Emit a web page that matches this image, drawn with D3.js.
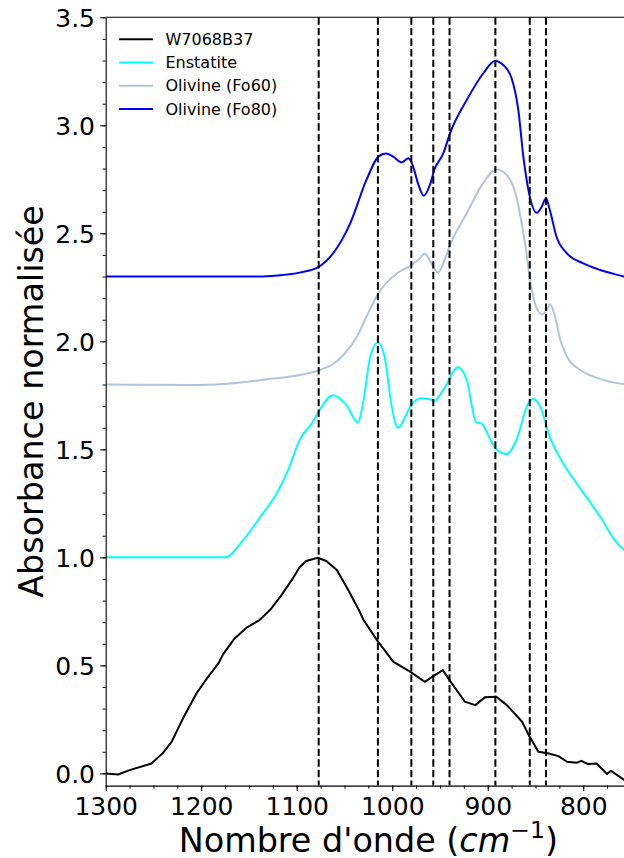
<!DOCTYPE html>
<html>
<head>
<meta charset="utf-8">
<script src="https://cdn.jsdelivr.net/npm/d3@7"></script>
<style>
  html, body { margin: 0; padding: 0; background: #fff; }
  svg { display: block; font-family: "DejaVu Sans", sans-serif; }
</style>
</head>
<body>
<svg id="chart" width="624" height="858"></svg>
<script>
// ---------- DATA ----------
const seriesNames = ["W7068B37", "Enstatite", "Olivine (Fo60)", "Olivine (Fo80)"];
const seriesColors = ["#000000", "#00ffff", "#b0c4de", "#0000ff"];

const wnSample = [1300, 1287, 1275, 1252, 1240, 1231, 1219, 1205, 1194, 1182, 1177, 1165, 1152, 1139, 1128, 1116, 1104, 1097, 1090, 1078, 1069, 1058, 1046, 1034, 1030, 1016, 999, 981, 966, 957, 947, 940, 924, 913, 903, 891, 880, 864, 858, 847, 837, 826, 817, 807, 802, 795, 786, 775, 771, 758, 750];
const absSample = [0.0, -0.005, 0.015, 0.046, 0.095, 0.146, 0.255, 0.370, 0.440, 0.509, 0.552, 0.625, 0.676, 0.710, 0.756, 0.825, 0.903, 0.954, 0.983, 0.998, 0.983, 0.941, 0.849, 0.748, 0.710, 0.617, 0.517, 0.470, 0.424, 0.450, 0.478, 0.432, 0.332, 0.316, 0.352, 0.355, 0.316, 0.239, 0.185, 0.100, 0.093, 0.080, 0.054, 0.049, 0.058, 0.043, 0.046, -0.003, 0.012, -0.028, -0.04];

const wnEnstatite = [1300, 1175, 1156, 1138, 1121, 1109, 1097, 1083, 1076, 1062, 1048, 1036, 1030, 1023, 1015, 1008, 1000.5, 994, 980, 971, 960, 956, 946.5, 931, 922, 912, 906, 900, 892, 880, 870, 857.5, 852, 845, 835, 824, 807, 793, 780, 768.5, 757, 750];
const absEnstatite = [1.0, 1.0, 1.08, 1.188, 1.296, 1.404, 1.543, 1.628, 1.682, 1.751, 1.705, 1.625, 1.728, 1.929, 1.995, 1.929, 1.697, 1.600, 1.705, 1.736, 1.731, 1.725, 1.775, 1.880, 1.821, 1.625, 1.618, 1.57, 1.505, 1.478, 1.543, 1.713, 1.733, 1.697, 1.558, 1.458, 1.343, 1.257, 1.173, 1.088, 1.034, 1.01];

const wnFo60 = [1300, 1200, 1166, 1131, 1097, 1076, 1062, 1051, 1037, 1027, 1014.5, 995, 980, 971, 966, 959, 952, 946.5, 939.5, 922, 905, 891, 880, 870, 861, 854, 850.5, 843.5, 838, 835, 829.5, 824, 817, 803, 786, 757, 750];
const absFo60 = [1.8, 1.798, 1.806, 1.824, 1.844, 1.867, 1.895, 1.937, 2.021, 2.114, 2.222, 2.315, 2.353, 2.384, 2.407, 2.361, 2.318, 2.361, 2.446, 2.593, 2.731, 2.796, 2.770, 2.669, 2.454, 2.238, 2.176, 2.125, 2.145, 2.173, 2.114, 2.006, 1.929, 1.867, 1.832, 1.802, 1.80];

const wnFo80 = [1300, 1140, 1120, 1097, 1077, 1062, 1044, 1027, 1014.5, 1006.5, 999, 990, 983, 978, 973, 967, 960, 956, 946.5, 939.5, 922, 904.6, 892.4, 883.7, 875, 868, 862.7, 856.7, 848.7, 843.5, 839, 835, 828, 817, 800, 782, 757, 750];
const absFo80 = [2.3, 2.3, 2.305, 2.318, 2.345, 2.407, 2.546, 2.747, 2.855, 2.870, 2.855, 2.829, 2.847, 2.808, 2.731, 2.674, 2.731, 2.793, 2.870, 2.963, 3.117, 3.241, 3.298, 3.279, 3.218, 3.071, 2.855, 2.685, 2.595, 2.623, 2.662, 2.608, 2.484, 2.407, 2.361, 2.330, 2.299, 2.29];

const bandPositions = [1077, 1015, 980, 957, 940, 892, 856, 839];

const xTickValues = [1300, 1200, 1100, 1000, 900, 800];
const yTickValues = [0.0, 0.5, 1.0, 1.5, 2.0, 2.5, 3.0, 3.5];

(function () {
// ---------- LAYOUT ----------
const svg = d3.select("#chart");
const pL = 105.7, pR = 631, pT = 17.3, pB = 785.6;

const x = d3.scaleLinear().domain([1300, 750]).range([pL, pR]);
const y = d3.scaleLinear().domain([-0.0565, 3.5]).range([pB, pT]);

const series = [
  { name: seriesNames[0], color: seriesColors[0], wn: wnSample, v: absSample, curve: d3.curveLinear },
  { name: seriesNames[1], color: seriesColors[1], wn: wnEnstatite, v: absEnstatite, curve: d3.curveMonotoneX },
  { name: seriesNames[2], color: seriesColors[2], wn: wnFo60, v: absFo60, curve: d3.curveMonotoneX },
  { name: seriesNames[3], color: seriesColors[3], wn: wnFo80, v: absFo80, curve: d3.curveMonotoneX }
];

// curves
series.forEach(s => {
  const pts = s.wn.map((w, i) => [w, s.v[i]]);
  const line = d3.line().x(d => x(d[0])).y(d => y(d[1])).curve(s.curve);
  svg.append("path")
    .attr("d", line(pts))
    .attr("fill", "none")
    .attr("stroke", s.color)
    .attr("stroke-width", 2)
    .attr("stroke-linejoin", "round")
    .attr("stroke-linecap", "butt");
});

// dashed band lines
svg.append("g").selectAll("line").data(bandPositions).join("line")
  .attr("x1", d => x(d)).attr("x2", d => x(d))
  .attr("y1", pT).attr("y2", pB)
  .attr("stroke", "#000").attr("stroke-width", 2)
  .attr("stroke-dasharray", "7.4,3.2");

// axes
const xMinor = d3.range(1300, 749, -25);
const yMinor = d3.range(0, 36).map(i => +(i * 0.1).toFixed(1));

svg.append("g").attr("transform", `translate(0,${pB})`)
  .call(d3.axisBottom(x).tickValues(xMinor).tickSize(3).tickFormat(""))
  .call(g => g.select(".domain").remove());
svg.append("g").attr("transform", `translate(${pL},0)`)
  .call(d3.axisLeft(y).tickValues(yMinor).tickSize(3).tickFormat(""))
  .call(g => g.select(".domain").remove());

const xAxis = svg.append("g").attr("transform", `translate(0,${pB})`)
  .call(d3.axisBottom(x).tickValues(xTickValues).tickSizeInner(5.5).tickSizeOuter(0).tickPadding(6.3).tickFormat(d3.format("d")));
xAxis.selectAll("text").attr("font-size", 25).attr("font-family", "DejaVu Sans").attr("fill", "#000");
xAxis.select(".domain").attr("stroke-width", 1.1);

const yAxis = svg.append("g").attr("transform", `translate(${pL},0)`)
  .call(d3.axisLeft(y).tickValues(yTickValues).tickSizeInner(5.5).tickSizeOuter(0).tickPadding(5.2).tickFormat(d3.format(".1f")));
yAxis.selectAll("text").attr("font-size", 25).attr("font-family", "DejaVu Sans").attr("fill", "#000").attr("dy", "0.36em");
yAxis.select(".domain").attr("stroke-width", 1.1);

// top / right spines
svg.append("line").attr("x1", pL).attr("x2", pR).attr("y1", pT).attr("y2", pT)
  .attr("stroke", "#000").attr("stroke-width", 1.1);
svg.append("line").attr("x1", pR).attr("x2", pR).attr("y1", pT).attr("y2", pB)
  .attr("stroke", "#000").attr("stroke-width", 1.1);

// axis labels
const xl = svg.append("text")
  .attr("x", (pL + pR) / 2).attr("y", 851.5)
  .attr("text-anchor", "middle").attr("font-size", 33.4).attr("fill", "#000");
xl.append("tspan").text("Nombre d'onde (");
xl.append("tspan").attr("font-style", "italic").text("cm");
xl.append("tspan").attr("font-size", 23.5).attr("dy", -13.5).text("\u22121");
xl.append("tspan").attr("dy", 13.5).text(")");

svg.append("text")
  .attr("transform", `translate(43,${(pT + pB) / 2}) rotate(-90)`)
  .attr("text-anchor", "middle").attr("font-size", 33.4).attr("fill", "#000")
  .text("Absorbance normalisée");

// legend
const leg = svg.append("g");
const rowY = [39.3, 62.5, 85.7, 108.9];
series.forEach((s, i) => {
  leg.append("line").attr("x1", 119).attr("x2", 153).attr("y1", rowY[i]).attr("y2", rowY[i])
    .attr("stroke", s.color).attr("stroke-width", 2);
  leg.append("text").attr("x", 165.5).attr("y", rowY[i]).attr("dy", "0.36em")
    .attr("font-size", 16).attr("fill", "#000").text(s.name);
});
})();
</script>
</body>
</html>
